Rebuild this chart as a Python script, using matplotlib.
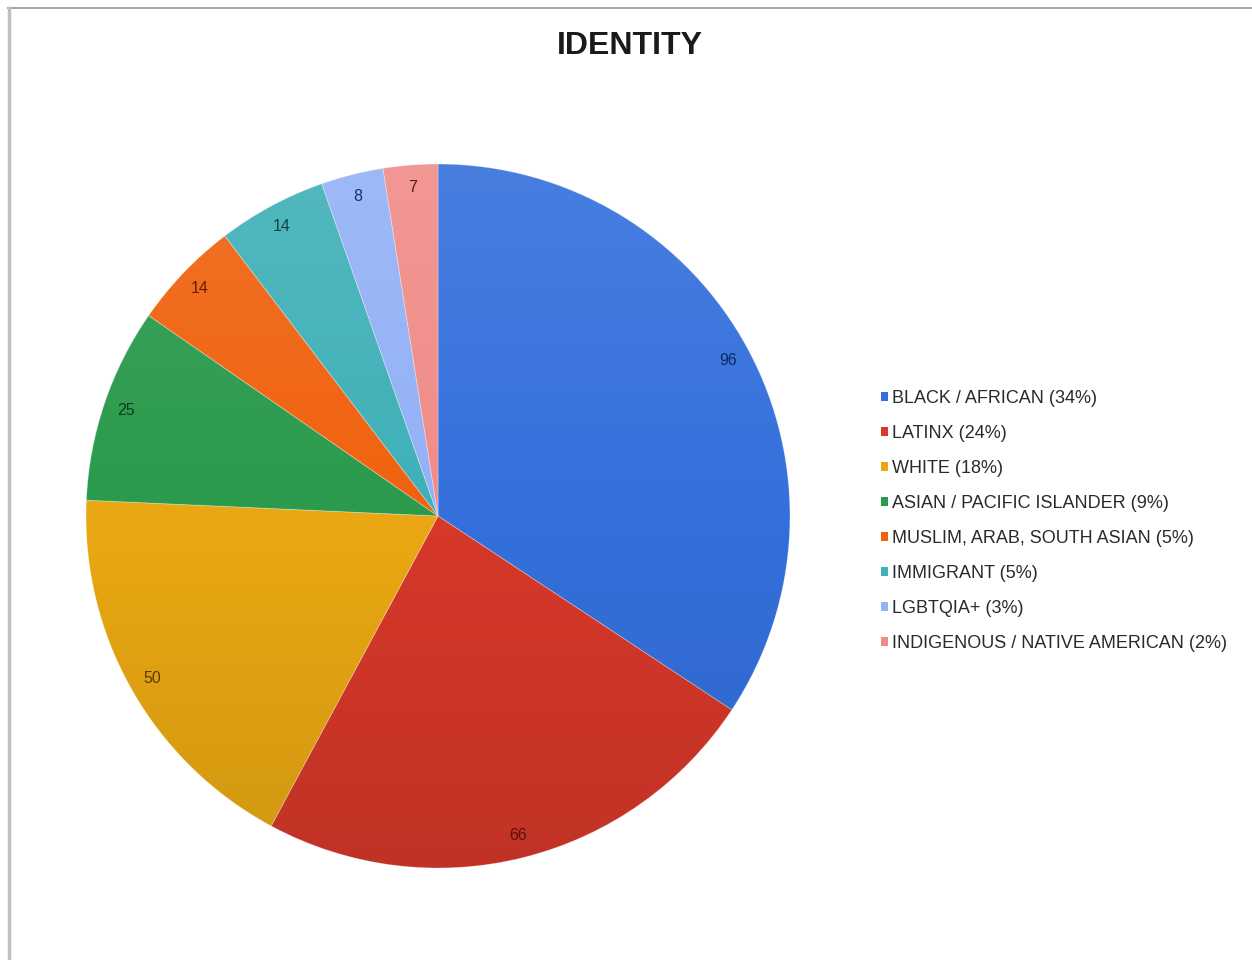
import numpy as np
import matplotlib
matplotlib.use('Agg')
from matplotlib import pyplot as plt
from matplotlib.patches import Patch, Circle

plt.rcParams['font.family'] = ['Liberation Sans', 'DejaVu Sans']

# identity breakdown
groups = ['BLACK / AFRICAN', 'LATINX', 'WHITE', 'ASIAN / PACIFIC ISLANDER',
          'MUSLIM, ARAB, SOUTH ASIAN', 'IMMIGRANT', 'LGBTQIA+',
          'INDIGENOUS / NATIVE AMERICAN']
counts = [96, 66, 50, 25, 14, 14, 8, 7]
colors = ['#3470dc', '#d6382a', '#e9a813', '#2b9a4c', '#f0620f', '#3fb0b8',
          '#93b1f6', '#f08c88']
label_colors = ['#0d2a66', '#5e1208', '#5a3c00', '#0b3d1a', '#6a1e00', '#0d4448',
                '#1c2e70', '#5c1a16']

W, H = 1252, 960
fig = plt.figure(figsize=(W / 100, H / 100), dpi=100)
fig.patch.set_facecolor('white')

# frame lines along the top and left edges
frame = fig.add_axes([0, 0, 1, 1], zorder=-1)
frame.set_xlim(0, W)
frame.set_ylim(H, 0)
frame.axis('off')
frame.plot([8, W], [8, 8], color='#a8a8a8', lw=1.5)
frame.plot([9, 9], [8, H], color='#c0c0c0', lw=2.5)

cx, cy, r = 438, 516, 352
ax = fig.add_axes([(cx - r) / W, (H - cy - r) / H, 2 * r / W, 2 * r / H])
wedges, _ = ax.pie(counts, colors=colors, startangle=90, counterclock=False,
                   radius=1, wedgeprops=dict(edgecolor=(1, 1, 1, 0.35), linewidth=0.6))
ax.set_xlim(-1, 1)
ax.set_ylim(-1, 1)
ax.set_aspect('equal')

# soft vertical shading over the pie
grad = np.linspace(1, -1, 256).reshape(-1, 1)
shade = np.zeros((256, 1, 4))
shade[..., :3] = np.where(grad > 0, 1.0, 0.0)[..., None]
shade[..., 3] = np.abs(grad) * 0.10
im = ax.imshow(shade, extent=[-1, 1, -1, 1], aspect='auto', zorder=3,
               interpolation='bilinear')
im.set_clip_path(Circle((0, 0), 1, transform=ax.transData))

for w, n, lc in zip(wedges, counts, label_colors):
    theta = np.deg2rad((w.theta1 + w.theta2) / 2)
    ax.text(0.935 * np.cos(theta), 0.935 * np.sin(theta), str(n),
            ha='center', va='center', fontsize=11.5, color=lc, zorder=4)

fig.text(630 / W, 1 - 46 / H, 'IDENTITY', ha='center', va='center',
         fontsize=23, fontweight='bold', color='#1a1a1a')

total = sum(counts)
handles = [Patch(facecolor=c, edgecolor='none') for c in colors]
labels = ['%s (%d%%)' % (g, round(100 * n / total)) for g, n in zip(groups, counts)]
fig.legend(handles, labels, loc='upper left',
           bbox_to_anchor=(881 / W, 1 - 390 / H), frameon=False,
           handlelength=0.4, handleheight=0.4, handletextpad=0.2,
           labelspacing=1.0, fontsize=13, labelcolor='#2a2a2a',
           borderaxespad=0, borderpad=0)

plt.savefig('out.png', dpi=100, facecolor='white')
